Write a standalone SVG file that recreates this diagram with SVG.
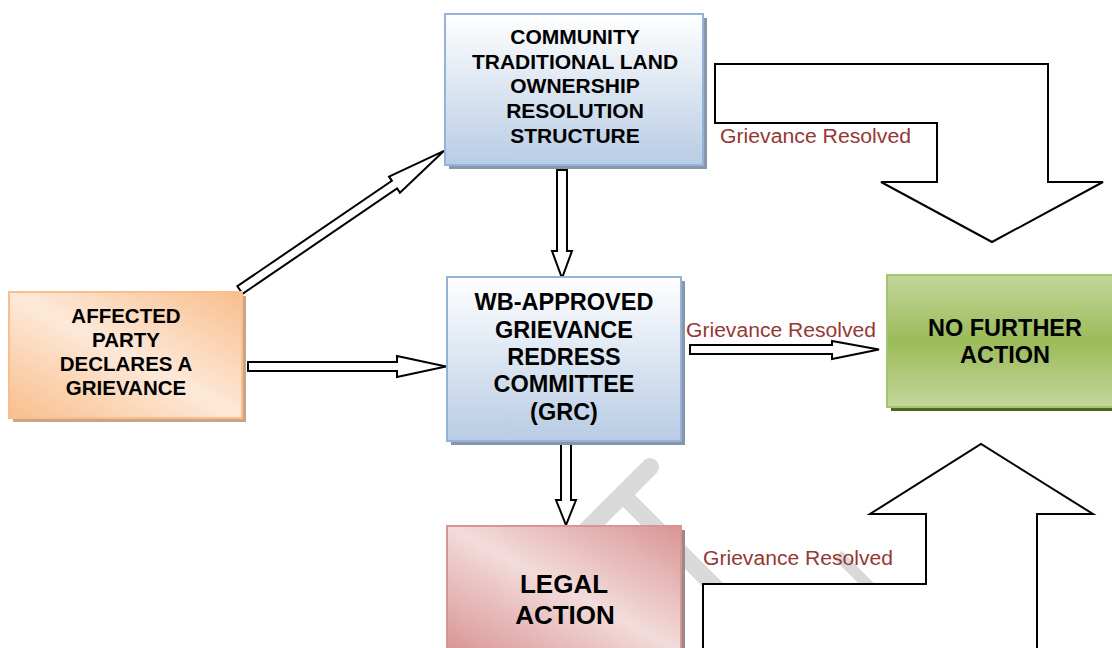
<svg xmlns="http://www.w3.org/2000/svg" width="1112" height="648" viewBox="0 0 1112 648">
<defs>
<linearGradient id="gBlue" x1="0" y1="0" x2="0" y2="1">
<stop offset="0" stop-color="#ffffff"/>
<stop offset="1" stop-color="#b8cce4"/>
</linearGradient>
<linearGradient id="gOrange" x1="0" y1="1" x2="1" y2="0">
<stop offset="0" stop-color="#f9be8c"/>
<stop offset="0.5" stop-color="#fde9d9"/>
<stop offset="1" stop-color="#f9be8c"/>
</linearGradient>
<linearGradient id="gRed" x1="0" y1="1" x2="1" y2="0">
<stop offset="0" stop-color="#d99594"/>
<stop offset="0.5" stop-color="#f2dcdb"/>
<stop offset="1" stop-color="#d99594"/>
</linearGradient>
<linearGradient id="gGreen" x1="0" y1="0" x2="0" y2="1">
<stop offset="0" stop-color="#c3d69b"/>
<stop offset="0.5" stop-color="#9bbb59"/>
<stop offset="1" stop-color="#c3d69b"/>
</linearGradient>
<style>
.t{font-family:"Liberation Sans",Arial,sans-serif;font-weight:bold;fill:#000;text-anchor:middle}
.lbl{font-family:"Liberation Sans",Arial,sans-serif;font-size:20px;fill:#953735}
.ar{fill:#fff;stroke:#000;stroke-width:2;stroke-linejoin:miter}
.wm{stroke:#d9d9d9;fill:none}
</style>
</defs>
<rect width="1112" height="648" fill="#fff"/>

<g id="watermark">
<line class="wm" x1="650" y1="467" x2="585" y2="532" stroke-width="18" stroke-linecap="round"/>
<line class="wm" x1="625" y1="497" x2="745" y2="617" stroke-width="17"/>
<line class="wm" x1="838" y1="555" x2="880" y2="597" stroke-width="11"/>
</g>

<g id="connectors">
<path class="ar" d="M715,64 H1048 V182 H1103 L992,242 L881,182 H937 V123 H715 Z"/>
<path class="ar" d="M703,660 V584 H926 V514 H870 L981,444 L1093,514 H1037 V660 Z"/>
<path class="ar" transform="translate(240,290) rotate(-34.3)" d="M0,-4.6 H187 V-9.7 L247,0 L187,9.7 V4.6 H0 Z"/>
<path class="ar" d="M248,362 H397 V356 L446,366.5 L397,377 V371 H248 Z" stroke-width="1.8"/>
<path class="ar" d="M557,170 V251 H552 L562,278 L572,251 H567 V170 Z" stroke-width="1.8"/>
<path class="ar" d="M561,442 V500 H556 L566,525 L576,500 H571 V442 Z" stroke-width="1.8"/>
<path class="ar" d="M690,345 H832 V341 L879,349.5 L832,359 V354 H690 Z" stroke-width="1.8"/>
<text class="lbl" x="720" y="143" textLength="191" lengthAdjust="spacingAndGlyphs">Grievance Resolved</text>
<text class="lbl" x="686" y="337" textLength="190" lengthAdjust="spacingAndGlyphs">Grievance Resolved</text>
<text class="lbl" x="703" y="565" textLength="190" lengthAdjust="spacingAndGlyphs">Grievance Resolved</text>
</g>

<g id="community">
<rect x="449" y="18" width="258" height="151" fill="#8796ab"/>
<rect x="445" y="14" width="258" height="151" fill="url(#gBlue)" stroke="#95b3d7" stroke-width="2"/>
<text class="t" font-size="21"><tspan x="575" y="44">COMMUNITY</tspan><tspan x="575" y="69">TRADITIONAL LAND</tspan><tspan x="575" y="93">OWNERSHIP</tspan><tspan x="575" y="118">RESOLUTION</tspan><tspan x="575" y="143">STRUCTURE</tspan></text>
</g>

<g id="affected">
<rect x="13" y="296" width="233" height="126" fill="#c9a487"/>
<rect x="9" y="292" width="233" height="126" fill="url(#gOrange)" stroke="#f9be8c" stroke-width="2"/>
<text class="t" font-size="20.5"><tspan x="126" y="323">AFFECTED</tspan><tspan x="126" y="347">PARTY</tspan><tspan x="126" y="371">DECLARES A</tspan><tspan x="126" y="395">GRIEVANCE</tspan></text>
</g>

<g id="grc">
<rect x="451" y="281" width="234" height="164" fill="#8796ab"/>
<rect x="447" y="277" width="234" height="164" fill="url(#gBlue)" stroke="#95b3d7" stroke-width="2"/>
<text class="t" font-size="23.5"><tspan x="564" y="310">WB-APPROVED</tspan><tspan x="564" y="338">GRIEVANCE</tspan><tspan x="564" y="365">REDRESS</tspan><tspan x="564" y="392">COMMITTEE</tspan><tspan x="564" y="420">(GRC)</tspan></text>
</g>

<g id="legal">
<rect x="451" y="530" width="234" height="125" fill="#9c8a8a"/>
<rect x="447" y="526" width="234" height="125" fill="url(#gRed)" stroke="#d99594" stroke-width="2"/>
<text class="t" font-size="26"><tspan x="564" y="593">LEGAL</tspan><tspan x="565" y="624">ACTION</tspan></text>
</g>

<g id="nofurther">
<rect x="891" y="279" width="226" height="132" fill="#4f6228"/>
<rect x="887" y="275" width="226" height="132" fill="url(#gGreen)" stroke="#a6c46c" stroke-width="2"/>
<text class="t" font-size="23.5"><tspan x="1005" y="336">NO FURTHER</tspan><tspan x="1005" y="363">ACTION</tspan></text>
</g>
</svg>
